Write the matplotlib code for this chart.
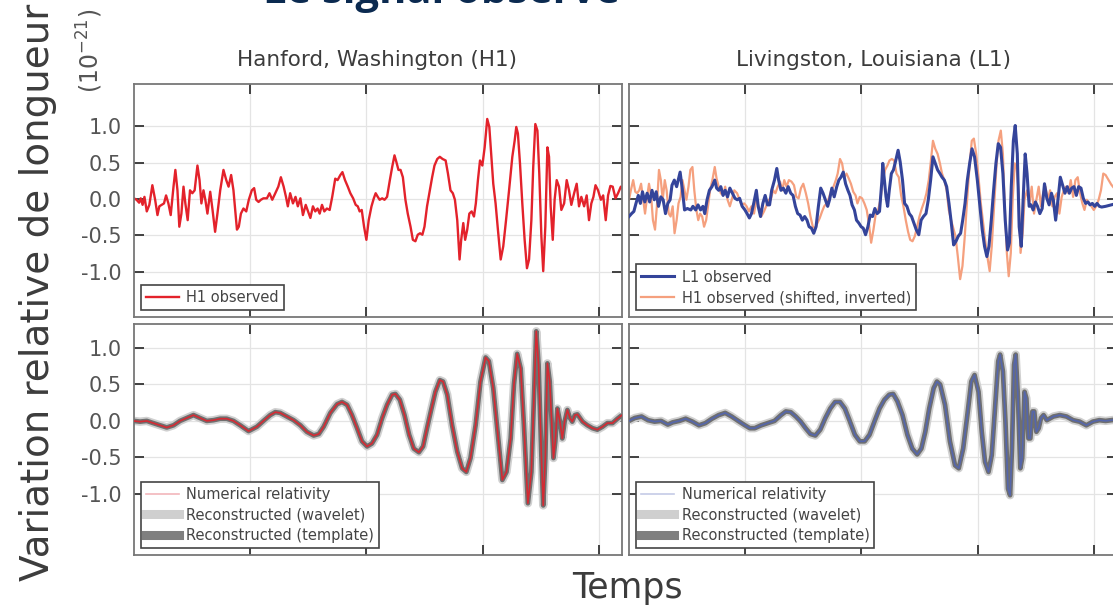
import numpy as np
import matplotlib.pyplot as plt

# time in ms (axis runs 250..460 ms), strain in units of 1e-21

# --- top left: Hanford observed ---
h1_observed = [
    (250.0, 0.01), (251.1, -0.01), (252.2, -0.05), (252.9, 0.01), (253.7, -0.08), (254.5, 0.03),
    (255.5, -0.17), (256.6, -0.08), (257.9, 0.19), (259.1, -0.01), (260.1, -0.22), (260.9, -0.10),
    (261.9, -0.08), (262.9, -0.06), (263.8, 0.05), (264.8, -0.06), (265.8, -0.22), (267.0, 0.17),
    (267.8, 0.40), (268.7, 0.12), (269.5, -0.38), (270.4, -0.20), (271.3, 0.17), (272.1, -0.06),
    (273.1, -0.29), (274.1, 0.12), (275.1, 0.08), (276.1, 0.12), (277.3, 0.46), (278.2, 0.26),
    (279.0, -0.06), (279.9, 0.12), (280.7, -0.01), (281.6, -0.20), (282.8, 0.10), (283.8, -0.15),
    (284.9, -0.45), (285.9, -0.20), (287.1, 0.12), (288.5, 0.40), (289.7, 0.26), (290.7, 0.17),
    (291.8, 0.33), (292.8, 0.12), (294.3, -0.42), (295.1, -0.38), (296.0, -0.20), (297.1, -0.13),
    (298.3, -0.17), (299.4, -0.01), (300.7, 0.12), (301.7, 0.15), (302.6, -0.01), (303.6, -0.04),
    (304.6, -0.01), (305.7, 0.01), (307.2, 0.01), (308.3, 0.08), (309.5, -0.01), (310.8, 0.08),
    (312.1, 0.17), (313.2, 0.30), (314.4, 0.17), (315.4, 0.03), (316.2, -0.10), (317.2, 0.08),
    (318.4, -0.06), (319.5, 0.03), (320.5, -0.10), (321.6, 0.01), (322.7, -0.22), (323.9, -0.08),
    (324.9, -0.17), (325.9, -0.26), (327.0, -0.10), (328.0, -0.17), (329.0, -0.13), (329.9, -0.20),
    (330.9, -0.08), (331.9, -0.17), (333.0, -0.13), (334.2, -0.15), (335.3, 0.03), (336.6, 0.28),
    (337.6, 0.26), (338.8, 0.33), (339.7, 0.37), (340.8, 0.26), (342.0, 0.17), (343.1, 0.08),
    (344.3, 0.01), (345.4, -0.08), (346.3, -0.10), (347.1, -0.17), (348.0, -0.15), (349.0, -0.38),
    (350.0, -0.56), (351.0, -0.29), (352.2, -0.10), (353.2, 0.01), (354.0, 0.08), (354.9, 0.03),
    (355.7, -0.01), (356.8, 0.01), (357.8, -0.01), (358.9, 0.03), (360.1, 0.26), (361.1, 0.44),
    (362.1, 0.60), (362.9, 0.51), (363.8, 0.40), (364.7, 0.40), (365.7, 0.30), (366.8, -0.01),
    (367.8, -0.20), (369.0, -0.38), (370.0, -0.56), (371.1, -0.58), (372.1, -0.49), (373.1, -0.47),
    (374.1, -0.49), (375.0, -0.38), (376.1, -0.10), (377.3, 0.12), (378.3, 0.30), (379.3, 0.46),
    (380.5, 0.55), (381.6, 0.58), (382.8, 0.55), (384.1, 0.53), (385.1, 0.35), (386.2, 0.12),
    (387.2, 0.08), (388.1, -0.01), (389.1, -0.29), (390.1, -0.83), (390.8, -0.56), (391.7, -0.33),
    (392.5, -0.56), (393.4, -0.42), (394.3, -0.20), (395.3, -0.17), (396.3, -0.24), (397.1, -0.06),
    (398.0, 0.26), (398.9, 0.53), (399.9, 0.46), (400.9, 0.71), (402.0, 1.10), (402.9, 0.99),
    (403.7, 0.62), (404.6, 0.21), (405.6, -0.06), (406.6, -0.42), (407.8, -0.83), (408.9, -0.65),
    (410.1, -0.29), (411.4, 0.12), (412.8, 0.58), (413.8, 0.80), (414.5, 0.99), (415.2, 0.90),
    (416.1, 0.49), (417.1, -0.06), (418.1, -0.56), (419.1, -0.95), (420.0, -0.83), (421.0, -0.29),
    (421.8, 0.44), (422.7, 1.03), (423.6, 0.94), (424.4, 0.35), (425.3, -0.51), (426.1, -0.99),
    (427.0, -0.38), (427.9, 0.71), (428.6, 0.58), (429.3, -0.10), (430.2, -0.56), (431.0, -0.01),
    (431.9, 0.26), (432.9, 0.17), (433.9, -0.15), (435.1, -0.06), (436.2, 0.26), (437.2, 0.12),
    (438.2, -0.08), (439.4, 0.08), (440.5, 0.21), (441.5, -0.10), (442.5, 0.03), (443.7, -0.10),
    (444.8, 0.05), (445.8, -0.29), (446.8, -0.06), (447.7, 0.03), (448.6, 0.19), (449.7, 0.12),
    (450.9, -0.01), (451.9, 0.05), (453.0, -0.29), (454.0, 0.05), (455.0, 0.18), (456.0, 0.17),
    (457.2, 0.01), (458.3, 0.08), (459.5, 0.17), (460.0, 0.15),
]

# --- top right: Livingston observed ---
l1_observed = [
    (250.0, -0.24), (251.1, -0.20), (252.1, -0.17), (253.0, -0.06), (254.0, 0.05), (254.9, -0.06),
    (255.8, 0.10), (256.8, -0.04), (257.8, 0.08), (258.9, -0.04), (259.9, 0.12), (260.9, -0.01),
    (261.7, 0.10), (262.7, -0.10), (263.7, 0.03), (264.7, -0.01), (265.7, -0.20), (266.7, -0.06),
    (267.7, -0.01), (268.5, 0.19), (269.5, 0.26), (270.5, 0.17), (271.3, 0.28), (272.0, 0.37),
    (273.0, 0.12), (273.9, -0.15), (275.1, -0.13), (276.6, -0.15), (277.5, -0.10), (278.7, -0.15),
    (279.7, -0.08), (280.8, -0.15), (281.8, -0.10), (282.6, -0.20), (283.6, -0.01), (284.6, 0.12),
    (285.7, 0.17), (286.9, 0.26), (287.7, 0.15), (288.6, 0.12), (289.5, 0.17), (290.5, 0.05),
    (291.4, 0.12), (292.4, 0.03), (293.4, 0.15), (294.5, 0.08), (295.6, 0.01), (296.6, -0.01),
    (297.6, 0.01), (298.7, -0.10), (299.9, -0.15), (300.8, -0.20), (301.8, -0.26), (302.7, -0.20),
    (303.8, -0.04), (304.8, 0.12), (305.6, -0.10), (306.6, -0.24), (307.6, -0.06), (308.6, 0.05),
    (309.6, -0.08), (310.5, -0.08), (311.4, 0.12), (312.6, 0.26), (313.6, 0.42), (314.4, 0.26),
    (315.4, 0.12), (316.4, 0.15), (317.5, 0.08), (318.5, 0.17), (319.6, 0.08), (320.6, 0.05),
    (321.6, -0.10), (322.6, -0.20), (323.6, -0.22), (324.6, -0.29), (325.6, -0.24), (326.6, -0.29),
    (327.5, -0.38), (328.5, -0.40), (329.5, -0.47), (330.5, -0.38), (331.5, -0.10), (332.5, 0.15),
    (333.5, 0.08), (334.5, -0.01), (335.5, -0.10), (336.3, -0.01), (337.3, 0.15), (338.3, 0.03),
    (339.4, 0.17), (340.3, 0.26), (341.2, 0.30), (342.2, 0.37), (343.2, 0.21), (344.2, 0.12),
    (345.1, 0.05), (346.0, -0.08), (347.0, -0.15), (347.9, -0.29), (348.9, -0.33), (349.9, -0.38),
    (350.8, -0.40), (351.8, -0.49), (352.8, -0.38), (353.8, -0.22), (354.8, -0.24), (355.8, -0.13),
    (356.8, -0.20), (357.8, -0.17), (358.8, 0.24), (359.2, 0.49), (359.9, 0.26), (360.6, 0.03),
    (361.3, -0.10), (362.0, 0.12), (362.9, 0.35), (363.8, 0.40), (364.8, 0.53), (365.8, 0.67),
    (366.7, 0.51), (367.7, 0.26), (368.6, -0.06), (369.6, -0.10), (370.6, -0.20), (371.6, -0.24),
    (372.6, -0.33), (373.6, -0.42), (374.7, -0.49), (375.7, -0.29), (376.7, -0.24), (377.8, -0.20),
    (378.8, -0.01), (379.8, 0.26), (380.8, 0.58), (381.8, 0.49), (382.8, 0.40), (383.8, 0.35),
    (384.7, 0.30), (385.7, 0.26), (386.7, 0.17), (387.7, -0.06), (388.7, -0.33), (389.7, -0.63),
    (390.7, -0.58), (391.7, -0.51), (392.7, -0.47), (393.6, -0.29), (394.6, -0.06), (395.6, 0.26),
    (396.6, 0.49), (397.6, 0.69), (398.7, 0.58), (399.9, 0.26), (401.0, -0.10), (402.0, -0.42),
    (403.0, -0.65), (404.0, -0.79), (404.9, -0.65), (405.9, -0.29), (406.9, 0.12), (407.9, 0.49),
    (408.9, 0.76), (409.9, 0.71), (410.9, 0.35), (411.9, -0.29), (412.9, -0.70), (413.7, -0.60),
    (414.5, 0.17), (415.4, 0.80), (416.2, 1.01), (417.1, 0.62), (417.9, -0.38), (418.8, -0.65),
    (419.6, -0.01), (420.5, 0.62), (421.3, 0.35), (422.2, -0.10), (423.0, -0.08), (423.9, -0.15),
    (424.9, -0.04), (425.8, -0.10), (426.8, -0.20), (427.8, -0.13), (428.8, 0.21), (429.8, 0.01),
    (430.8, -0.08), (431.8, 0.08), (432.6, -0.01), (433.6, -0.29), (434.6, -0.01), (435.6, 0.30),
    (436.6, 0.19), (437.6, 0.08), (438.6, 0.17), (439.5, 0.08), (440.5, 0.15), (441.5, 0.17),
    (442.5, 0.05), (443.5, 0.17), (444.5, 0.15), (445.5, 0.01), (446.5, -0.06), (447.5, -0.04),
    (448.4, -0.08), (449.4, -0.06), (450.4, -0.10), (451.4, -0.06), (452.4, -0.10), (453.4, -0.11),
    (455.1, -0.10), (457.5, -0.08), (460.0, -0.06),
]

# --- top right: Hanford shifted and inverted ---
h1_shifted = [
    (250.0, -0.01), (250.8, 0.12), (251.8, 0.26), (252.7, 0.10), (253.5, 0.08), (254.4, 0.12),
    (255.2, 0.21), (256.1, -0.01), (256.9, -0.20), (257.8, 0.03), (258.6, 0.21), (259.5, 0.05),
    (260.3, -0.29), (261.2, -0.42), (262.0, -0.10), (262.9, 0.40), (263.7, 0.26), (264.5, -0.01),
    (265.4, 0.26), (266.2, 0.12), (267.1, -0.20), (267.9, -0.24), (268.8, -0.10), (269.6, -0.47),
    (270.5, -0.29), (271.3, -0.06), (272.2, 0.03), (273.0, 0.26), (273.9, 0.12), (274.7, -0.01),
    (275.6, 0.17), (276.4, 0.40), (277.3, 0.44), (278.1, 0.12), (279.0, -0.15), (279.8, -0.29),
    (280.6, -0.20), (281.5, -0.24), (282.3, -0.38), (283.2, -0.29), (284.0, -0.10), (284.9, 0.12),
    (286.0, 0.28), (286.9, 0.44), (287.7, 0.28), (288.6, 0.17), (289.5, 0.08), (290.5, 0.05),
    (291.4, 0.17), (292.4, -0.01), (293.4, -0.10), (294.2, -0.01), (295.3, 0.12), (296.5, 0.08),
    (297.6, -0.01), (298.4, -0.08), (299.6, -0.06), (300.6, -0.10), (301.6, -0.17), (302.7, -0.10),
    (303.8, -0.20), (304.8, -0.01), (305.8, -0.10), (306.9, -0.24), (308.1, -0.17), (309.0, -0.10),
    (310.0, -0.01), (311.0, -0.01), (312.0, 0.12), (313.0, 0.08), (314.0, 0.17), (315.0, 0.24),
    (316.0, 0.12), (316.8, 0.26), (317.8, 0.17), (318.8, 0.26), (319.9, 0.24), (321.0, 0.19),
    (322.0, 0.03), (323.0, 0.01), (324.0, 0.15), (325.0, 0.21), (326.1, 0.08), (327.1, -0.06),
    (328.1, -0.24), (329.1, -0.38), (330.1, -0.40), (331.1, -0.33), (332.1, -0.26), (333.1, -0.17),
    (334.0, -0.10), (335.0, -0.06), (336.0, 0.01), (337.0, 0.12), (338.0, 0.17), (339.0, 0.26),
    (339.8, 0.35), (340.8, 0.55), (341.7, 0.49), (342.7, 0.30), (343.6, 0.35), (344.6, 0.28),
    (345.5, 0.21), (346.5, 0.10), (347.5, 0.05), (348.3, -0.06), (349.3, 0.03), (350.3, 0.01),
    (351.3, -0.06), (352.3, -0.15), (353.2, -0.33), (354.2, -0.60), (355.2, -0.42), (356.2, -0.20),
    (357.2, -0.15), (358.2, -0.01), (359.2, 0.26), (360.2, 0.40), (361.2, 0.46), (362.1, 0.53),
    (363.1, 0.55), (364.1, 0.53), (365.1, 0.35), (366.1, 0.30), (367.1, 0.05), (368.1, -0.10),
    (369.1, -0.29), (370.1, -0.45), (371.0, -0.56), (372.0, -0.58), (373.0, -0.51), (374.0, -0.38),
    (375.0, -0.24), (376.0, -0.13), (377.0, -0.04), (378.0, 0.08), (379.0, 0.26), (379.8, 0.49),
    (380.8, 0.80), (381.8, 0.69), (382.8, 0.62), (383.8, 0.49), (384.7, 0.35), (385.7, 0.26),
    (386.7, 0.12), (387.6, -0.15), (388.6, -0.29), (389.7, -0.42), (390.5, -0.51), (391.5, -0.79),
    (392.5, -1.10), (393.5, -0.92), (394.5, -0.51), (395.5, -0.01), (396.5, 0.44), (397.5, 0.80),
    (398.4, 0.83), (399.4, 0.62), (400.4, 0.30), (401.4, -0.06), (402.4, -0.33), (403.4, -0.60),
    (404.4, -0.83), (405.2, -0.99), (406.1, -0.65), (407.1, -0.10), (408.1, 0.44), (409.0, 0.80),
    (410.0, 0.94), (410.9, 0.62), (411.7, -0.10), (412.6, -0.74), (413.4, -1.06), (414.3, -0.74),
    (415.1, -0.01), (416.0, 0.49), (416.8, 0.44), (417.7, 0.08), (418.5, -0.74), (419.4, -0.47),
    (420.2, -0.01), (421.3, 0.12), (422.3, -0.06), (423.3, 0.17), (424.3, -0.20), (425.3, -0.01),
    (426.3, 0.17), (427.3, -0.10), (428.2, 0.08), (429.2, 0.17), (430.2, -0.01), (431.2, 0.12),
    (432.2, -0.10), (433.2, 0.03), (434.2, 0.08), (435.2, -0.20), (436.2, 0.03), (437.1, 0.12),
    (438.1, 0.17), (439.1, 0.08), (440.1, 0.26), (441.1, 0.03), (442.1, 0.26), (443.1, 0.30),
    (444.1, 0.08), (445.1, -0.06), (446.0, -0.15), (447.0, -0.01), (448.0, -0.06), (449.0, -0.10),
    (450.0, -0.15), (451.0, -0.10), (452.1, -0.01), (453.1, 0.12), (454.1, 0.35), (455.1, 0.33),
    (457.5, 0.20), (460.0, 0.10),
]

# --- bottom left: numerical relativity waveform at Hanford ---
h1_nr = [
    (250.0, 0.00), (252.6, -0.01), (255.5, 0.00), (258.3, -0.03), (261.2, -0.06), (264.1, -0.09),
    (267.0, -0.06), (269.8, 0.00), (272.7, 0.04), (275.6, 0.08), (278.4, 0.04), (281.3, 0.00),
    (284.2, 0.01), (287.1, 0.03), (289.9, 0.03), (292.8, 0.00), (295.7, -0.06), (299.3, -0.14),
    (302.9, -0.08), (305.7, 0.00), (308.6, 0.08), (310.8, 0.12), (312.9, 0.11), (315.8, 0.06),
    (318.7, 0.01), (321.6, -0.06), (324.4, -0.15), (327.3, -0.20), (329.5, -0.18), (331.6, -0.08),
    (334.5, 0.11), (337.4, 0.23), (339.5, 0.26), (341.7, 0.22), (343.8, 0.08), (346.0, -0.10),
    (348.1, -0.28), (350.3, -0.35), (352.4, -0.31), (354.6, -0.19), (356.8, 0.04), (358.9, 0.22),
    (361.1, 0.36), (362.5, 0.37), (364.4, 0.29), (366.4, 0.08), (368.4, -0.19), (370.4, -0.38),
    (372.6, -0.43), (374.4, -0.35), (376.1, -0.10), (378.0, 0.17), (379.7, 0.40), (381.6, 0.56),
    (383.0, 0.54), (384.8, 0.36), (386.9, -0.06), (389.1, -0.42), (391.2, -0.65), (393.0, -0.70),
    (394.8, -0.51), (397.0, -0.06), (399.1, 0.54), (401.3, 0.87), (402.7, 0.82), (404.6, 0.45),
    (406.3, -0.10), (408.5, -0.81), (410.3, -0.70), (412.1, -0.24), (413.5, 0.50), (414.9, 0.92),
    (416.4, 0.72), (417.8, -0.06), (419.5, -1.13), (421.0, -0.70), (422.1, 0.31), (423.1, 1.23),
    (424.1, 0.77), (425.3, -0.47), (426.1, -1.16), (427.0, -0.51), (427.9, 0.79), (428.9, 0.54),
    (430.5, -0.51), (431.3, -0.28), (432.2, 0.17), (433.3, -0.01), (434.3, -0.24), (435.3, -0.01),
    (436.5, 0.15), (437.6, 0.04), (438.6, -0.01), (439.7, 0.08), (440.8, 0.09), (443.0, -0.01),
    (445.1, -0.06), (447.3, -0.10), (449.4, -0.12), (451.6, -0.08), (453.7, -0.03), (455.9, -0.03),
    (458.0, 0.03), (460.0, 0.08),
]

# --- bottom right: numerical relativity waveform at Livingston ---
l1_nr = [
    (250.0, 0.00), (252.5, 0.04), (255.4, 0.06), (258.2, 0.01), (261.0, -0.01), (263.8, 0.00),
    (266.7, -0.05), (268.8, -0.02), (271.6, 0.00), (274.4, 0.03), (277.3, -0.01), (280.1, -0.06),
    (282.9, -0.03), (285.7, 0.03), (288.6, 0.08), (291.4, 0.11), (294.2, 0.06), (297.0, 0.00),
    (299.9, -0.06), (302.0, -0.10), (304.1, -0.10), (306.9, -0.06), (309.7, -0.03), (312.6, 0.00),
    (315.4, 0.08), (317.5, 0.13), (319.6, 0.12), (321.8, 0.06), (323.9, -0.01), (326.0, -0.10),
    (328.1, -0.18), (330.2, -0.20), (332.3, -0.12), (334.5, 0.04), (336.6, 0.17), (338.7, 0.26),
    (340.8, 0.26), (342.9, 0.17), (345.1, -0.01), (347.2, -0.19), (349.3, -0.28), (351.4, -0.28),
    (353.5, -0.19), (355.6, -0.01), (357.8, 0.17), (359.9, 0.29), (362.0, 0.36), (363.7, 0.37),
    (365.5, 0.27), (367.7, 0.08), (369.8, -0.19), (371.9, -0.38), (374.0, -0.46), (375.8, -0.38),
    (377.5, -0.15), (379.2, 0.17), (381.1, 0.45), (382.5, 0.54), (383.9, 0.50), (386.0, 0.22),
    (388.1, -0.28), (390.3, -0.61), (391.9, -0.65), (393.8, -0.38), (395.6, 0.08), (397.3, 0.54),
    (398.7, 0.63), (400.4, 0.40), (401.8, -0.15), (403.2, -0.56), (404.7, -0.70), (406.1, -0.47),
    (407.5, 0.17), (408.9, 0.82), (409.7, 0.91), (410.9, 0.68), (412.0, -0.01), (413.1, -0.93),
    (414.0, -1.02), (414.8, -0.38), (415.7, 0.77), (416.4, 0.91), (417.4, 0.31), (418.4, -0.65),
    (419.2, -0.51), (420.2, 0.40), (421.0, 0.31), (421.9, -0.24), (422.7, -0.24), (423.6, 0.13),
    (424.4, 0.13), (425.3, -0.15), (426.3, -0.10), (427.3, 0.04), (428.4, 0.08), (429.8, 0.01),
    (432.6, 0.06), (435.4, 0.08), (438.3, 0.06), (441.1, 0.01), (443.9, -0.01), (446.8, -0.06),
    (449.6, -0.01), (452.4, 0.01), (455.1, 0.00), (460.0, 0.02),
]

panel_titles = ['Hanford, Washington (H1)', 'Livingston, Louisiana (L1)']
ytick_vals = [-1.0, -0.5, 0.0, 0.5, 1.0]
xtick_vals = [300, 350, 400, 450]

RED = '#e3222b'
BLUE = '#34449a'
SALMON = '#f5a07e'
TXT = '#3c3c3c'
TICK = '#555555'

W, H = 1113, 610
fig = plt.figure(figsize=(W / 100, H / 100), dpi=100)


def px_axes(x0, y0, x1, y1):
    return fig.add_axes([x0 / W, 1 - y1 / H, (x1 - x0) / W, (y1 - y0) / H])


def style(ax, ylim, show_ylabels):
    ax.set_xlim(250, 460)
    ax.set_ylim(*ylim)
    ax.set_xticks(xtick_vals)
    ax.set_yticks(ytick_vals)
    ax.set_xticklabels([])
    if show_ylabels:
        ax.set_yticklabels([f'{v:.1f}' for v in ytick_vals])
    else:
        ax.set_yticklabels([])
    ax.tick_params(direction='in', length=7, width=1.3, color='#333333',
                   top=True, right=True, labelsize=15, labelcolor=TICK, pad=9)
    ax.grid(True, color='#e4e4e4', linewidth=0.9)
    ax.set_axisbelow(True)
    for s in ax.spines.values():
        s.set_color('#777777')
        s.set_linewidth(1.3)


def legend(ax, **kw):
    leg = ax.legend(loc='lower left', fontsize=10.5, frameon=True, fancybox=False,
                    edgecolor='#444444', framealpha=1, borderaxespad=0.45,
                    handlelength=2.3, labelspacing=0.4, borderpad=0.35,
                    handletextpad=0.5, labelcolor='#444444', **kw)
    leg.get_frame().set_linewidth(1.2)
    return leg


ax_tl = px_axes(134, 84, 622, 317)
ax_tr = px_axes(629, 84, 1117, 317)
ax_bl = px_axes(134, 324, 622, 555)
ax_br = px_axes(629, 324, 1117, 555)

top_ylim = (-1.62, 1.58)
bot_ylim = (-1.84, 1.33)

# top left
t, v = np.array(h1_observed).T
ax_tl.plot(t, v, color=RED, lw=1.7, label='H1 observed')
style(ax_tl, top_ylim, True)
legend(ax_tl)
fig.text(377 / W, 1 - 60 / H, panel_titles[0], fontsize=15.5, color=TXT,
         ha='center', va='center')

# top right
t, v = np.array(h1_shifted).T
t2, v2 = np.array(l1_observed).T
ax_tr.plot(t2, v2, color=BLUE, lw=2.2, label='L1 observed', zorder=3)
ax_tr.plot(t, v, color=SALMON, lw=1.6, label='H1 observed (shifted, inverted)', zorder=2)
style(ax_tr, top_ylim, False)
legend(ax_tr)
fig.text(873 / W, 1 - 60 / H, panel_titles[1], fontsize=15.5, color=TXT,
         ha='center', va='center')

# bottom panels: reconstructions drawn as bands around the waveform
for ax, data, col, nr_col in [(ax_bl, h1_nr, '#d42a33', '#f2b6bb'),
                              (ax_br, l1_nr, '#5566aa', '#c5cbe6')]:
    t, v = np.array(data).T
    ax.plot(t, v, color='#d0d0d0', lw=6.0, solid_capstyle='butt', zorder=2)
    ax.plot(t, v, color='#6f6f6f', lw=3.4, solid_capstyle='butt', zorder=3)
    ax.plot(t, v, color=col, lw=1.2, zorder=4)
    style(ax, bot_ylim, ax is ax_bl)
    handles = [
        plt.Line2D([], [], color=nr_col, lw=1.2),
        plt.Line2D([], [], color='#cfcfcf', lw=6.5),
        plt.Line2D([], [], color='#7f7f7f', lw=6.5),
    ]
    legend(ax, handles=handles,
           labels=['Numerical relativity', 'Reconstructed (wavelet)', 'Reconstructed (template)'])

# figure-level labels
fig.text(0.034, 0.52, 'Variation relative de longueur', rotation=90, fontsize=28,
         color=TXT, ha='center', va='center')
fig.text(90 / W, 1 - 51 / H, '(10$^{-21}$)', rotation=90, fontsize=17,
         color=TICK, ha='center', va='center')
fig.text(627 / W, 1 - 588 / H, 'Temps', fontsize=25, color=TXT, ha='center', va='center')
fig.text(441 / W, 1 - 3 / H, 'Le signal observé', fontsize=30, fontweight='bold',
         family='Open Sans', color='#0b2a50', ha='center', va='baseline')

fig.savefig('out.png', dpi=100)
